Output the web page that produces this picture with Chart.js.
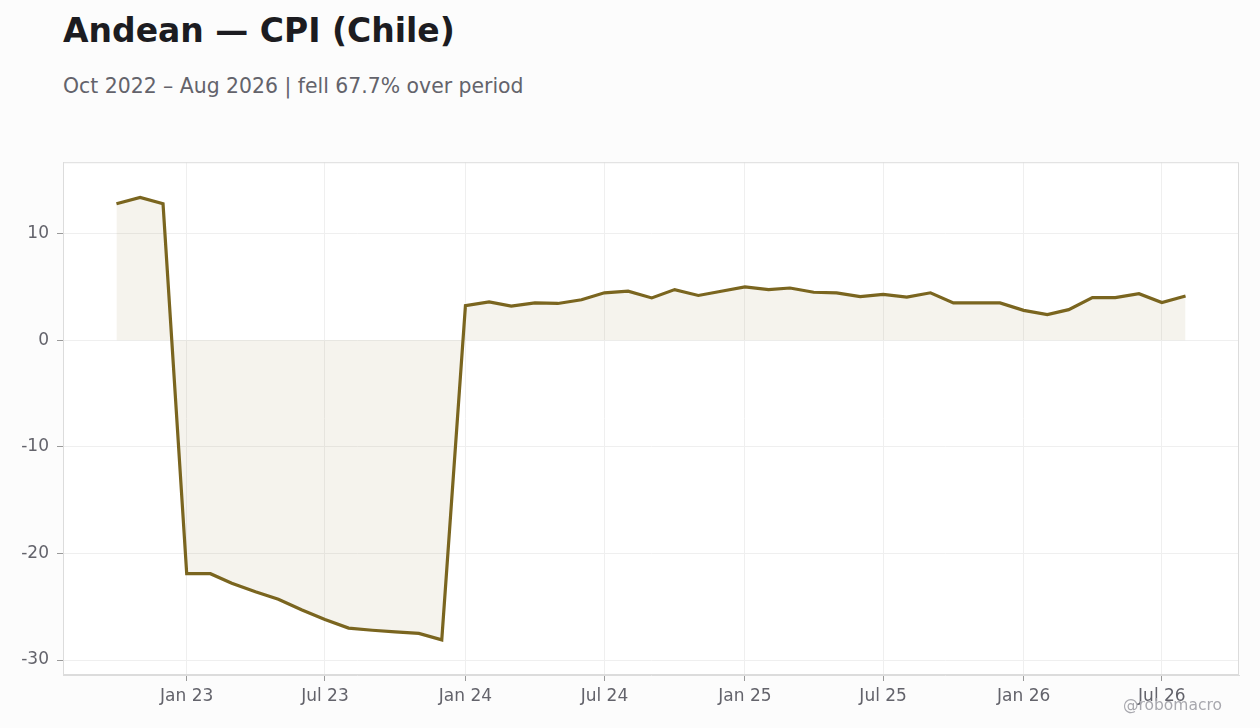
<!DOCTYPE html>
<html>
<head>
<meta charset="utf-8">
<script src="https://cdn.jsdelivr.net/npm/chart.js@4"></script>
<style>
  body { margin: 0; background: #fcfcfc; font-family: "DejaVu Sans", sans-serif; }
  #wrap { position: relative; width: 1260px; height: 728px; }
  .title { position: absolute; left: 63px; top: 11px; font-size: 33px; font-weight: bold; color: #1c1c21; }
  .subtitle { position: absolute; left: 63px; top: 74px; font-size: 20.4px; color: #63636b; }
  .credit { position: absolute; left: 1123px; top: 696px; font-size: 15.5px; color: #a8a8ae; }
  #chartBox { position: absolute; left: 0; top: 144px; width: 1260px; height: 584px; }
</style>
</head>
<body>
<div id="wrap">
  <div class="title">Andean — CPI (Chile)</div>
  <div class="subtitle">Oct 2022 – Aug 2026 | fell 67.7% over period</div>
  <div id="chartBox"><canvas id="cpiChart"></canvas></div>
  <div class="credit">@robomacro</div>
</div>
<script>
// monthly observations (first of month)
const months = [
  "2022-10", "2022-11", "2022-12",
  "2023-01", "2023-02", "2023-03", "2023-04", "2023-05", "2023-06",
  "2023-07", "2023-08", "2023-09", "2023-10", "2023-11", "2023-12",
  "2024-01", "2024-02", "2024-03", "2024-04", "2024-05", "2024-06",
  "2024-07", "2024-08", "2024-09", "2024-10", "2024-11", "2024-12",
  "2025-01", "2025-02", "2025-03", "2025-04", "2025-05", "2025-06",
  "2025-07", "2025-08", "2025-09", "2025-10", "2025-11", "2025-12",
  "2026-01", "2026-02", "2026-03", "2026-04", "2026-05", "2026-06",
  "2026-07", "2026-08"
];
const cpiValues = [
  12.8, 13.4, 12.8,
  -21.9, -21.9, -22.8, -23.6, -24.3, -25.3,
  -26.2, -27.0, -27.2, -27.35, -27.5, -28.1,
  3.25, 3.6, 3.2, 3.5, 3.45, 3.8,
  4.45, 4.6, 3.97, 4.75, 4.2, 4.6,
  5.0, 4.75, 4.9, 4.5, 4.45, 4.1,
  4.3, 4.05, 4.45, 3.5, 3.5, 3.5,
  2.8, 2.4, 2.87, 4.0, 4.0, 4.37,
  3.53, 4.15
];
const tickDates = ["2023-01", "2023-07", "2024-01", "2024-07", "2025-01", "2025-07", "2026-01", "2026-07"];
const tickLabels = ["Jan 23", "Jul 23", "Jan 24", "Jul 24", "Jan 25", "Jul 25", "Jan 26", "Jul 26"];

function toTime(ym) {
  const p = ym.split("-");
  return Date.UTC(+p[0], +p[1] - 1, 1);
}

const points = months.map((m, i) => ({ x: toTime(m), y: cpiValues[i] }));
const tickTimes = tickDates.map(toTime);
const t0 = points[0].x;
const t1 = points[points.length - 1].x;
const pad = (t1 - t0) * 0.05;

// light frame around the plot area
const frame = {
  id: "frame",
  afterDraw(chart) {
    const a = chart.chartArea;
    const ctx = chart.ctx;
    ctx.save();
    ctx.strokeStyle = "#dcdcdc";
    ctx.lineWidth = 1;
    ctx.strokeRect(a.left + 0.5, a.top + 0.5, a.right - a.left - 1, a.bottom - a.top - 1);
    ctx.restore();
  }
};

const plotBg = {
  id: "plotBg",
  beforeDraw(chart) {
    const a = chart.chartArea;
    chart.ctx.save();
    chart.ctx.fillStyle = "#ffffff";
    chart.ctx.fillRect(a.left, a.top, a.right - a.left, a.bottom - a.top);
    chart.ctx.restore();
  }
};

new Chart(document.getElementById("cpiChart"), {
  type: "line",
  data: {
    datasets: [{
      data: points,
      borderColor: "#7a651f",
      backgroundColor: "rgba(122, 101, 31, 0.08)",
      borderWidth: 3.2,
      pointRadius: 0,
      tension: 0,
      fill: "origin"
    }]
  },
  options: {
    responsive: true,
    maintainAspectRatio: false,
    animation: false,
    layout: { padding: { top: 8, right: 21, left: 0, bottom: 0 } },
    plugins: { legend: { display: false }, tooltip: { enabled: false } },
    scales: {
      x: {
        type: "linear",
        min: t0 - pad,
        max: t1 + pad,
        afterBuildTicks(axis) {
          axis.ticks = tickTimes.map(v => ({ value: v }));
        },
        afterFit(axis) { axis.height = 53; },
        ticks: {
          callback(v) {
            const i = tickTimes.indexOf(v);
            return i >= 0 ? tickLabels[i] : "";
          },
          color: "#63636b",
          font: { family: "DejaVu Sans", size: 17 },
          padding: 5,
          maxRotation: 0
        },
        grid: { color: "#efefef", tickColor: "#9a9a9a", tickLength: 6 },
        border: { color: "#dcdcdc" }
      },
      y: {
        min: -31.4,
        max: 16.7,
        afterBuildTicks(axis) {
          axis.ticks = [-30, -20, -10, 0, 10].map(v => ({ value: v }));
        },
        afterFit(axis) { axis.width = 63; },
        ticks: {
          color: "#63636b",
          font: { family: "DejaVu Sans", size: 17 },
          padding: 8
        },
        grid: { color: "#efefef", tickColor: "#9a9a9a", tickLength: 6 },
        border: { color: "#dcdcdc" }
      }
    }
  },
  plugins: [plotBg, frame]
});
</script>
</body>
</html>
